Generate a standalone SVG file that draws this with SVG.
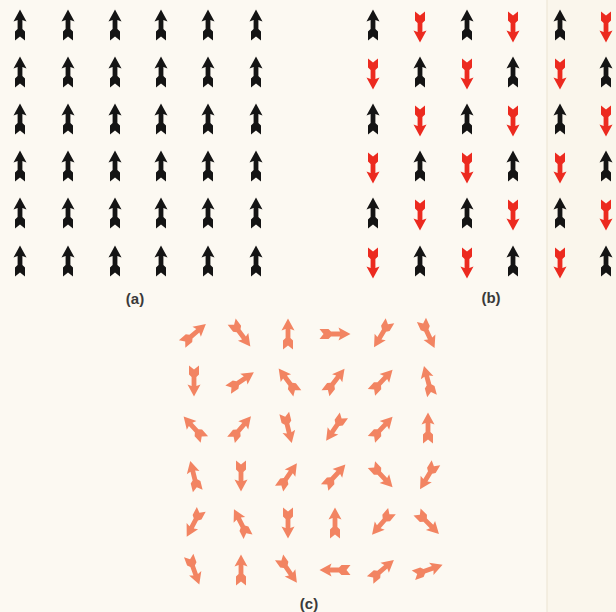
<svg xmlns="http://www.w3.org/2000/svg" xmlns:xlink="http://www.w3.org/1999/xlink" width="616" height="612" viewBox="0 0 616 612">
<style>
.blk{fill:#141414}
.red{fill:#ec2a1f}
.pnk{fill:#f28462}
.lbl{font-family:"Liberation Sans",Arial,sans-serif;font-size:15px;font-weight:bold;fill:#3a3a3a;text-anchor:middle}
</style>
<defs>
<path id="ar" d="M0,-15.5 L6.5,-3.5 L2.4,-5 L2.4,4 L5,6.5 L5,15.5 L0,11.5 L-5,15.5 L-5,6.5 L-2.4,4 L-2.4,-5 L-6.5,-3.5 Z"/>
</defs>
<rect width="616" height="612" fill="#fcf9f2"/>
<rect x="547" y="0" width="69" height="612" fill="#faf6ec"/>
<line x1="547" y1="0" x2="547" y2="612" stroke="#ebe3d2" stroke-width="1"/>

<g id="panel-a" class="blk">
<use xlink:href="#ar" x="20" y="25"/><use xlink:href="#ar" x="68" y="25"/><use xlink:href="#ar" x="115" y="25"/><use xlink:href="#ar" x="161" y="25"/><use xlink:href="#ar" x="208" y="25"/><use xlink:href="#ar" x="256" y="25"/>
<use xlink:href="#ar" x="20" y="72"/><use xlink:href="#ar" x="68" y="72"/><use xlink:href="#ar" x="115" y="72"/><use xlink:href="#ar" x="161" y="72"/><use xlink:href="#ar" x="208" y="72"/><use xlink:href="#ar" x="256" y="72"/>
<use xlink:href="#ar" x="20" y="119"/><use xlink:href="#ar" x="68" y="119"/><use xlink:href="#ar" x="115" y="119"/><use xlink:href="#ar" x="161" y="119"/><use xlink:href="#ar" x="208" y="119"/><use xlink:href="#ar" x="256" y="119"/>
<use xlink:href="#ar" x="20" y="166"/><use xlink:href="#ar" x="68" y="166"/><use xlink:href="#ar" x="115" y="166"/><use xlink:href="#ar" x="161" y="166"/><use xlink:href="#ar" x="208" y="166"/><use xlink:href="#ar" x="256" y="166"/>
<use xlink:href="#ar" x="20" y="213"/><use xlink:href="#ar" x="68" y="213"/><use xlink:href="#ar" x="115" y="213"/><use xlink:href="#ar" x="161" y="213"/><use xlink:href="#ar" x="208" y="213"/><use xlink:href="#ar" x="256" y="213"/>
<use xlink:href="#ar" x="20" y="261"/><use xlink:href="#ar" x="68" y="261"/><use xlink:href="#ar" x="115" y="261"/><use xlink:href="#ar" x="161" y="261"/><use xlink:href="#ar" x="208" y="261"/><use xlink:href="#ar" x="256" y="261"/>
</g>

<g id="panel-b">
<g class="blk">
<use xlink:href="#ar" x="373" y="25"/><use xlink:href="#ar" x="467" y="25"/><use xlink:href="#ar" x="560" y="25"/>
<use xlink:href="#ar" x="420" y="72"/><use xlink:href="#ar" x="513" y="72"/><use xlink:href="#ar" x="606" y="72"/>
<use xlink:href="#ar" x="373" y="119"/><use xlink:href="#ar" x="467" y="119"/><use xlink:href="#ar" x="560" y="119"/>
<use xlink:href="#ar" x="420" y="166"/><use xlink:href="#ar" x="513" y="166"/><use xlink:href="#ar" x="606" y="166"/>
<use xlink:href="#ar" x="373" y="213"/><use xlink:href="#ar" x="467" y="213"/><use xlink:href="#ar" x="560" y="213"/>
<use xlink:href="#ar" x="420" y="261"/><use xlink:href="#ar" x="513" y="261"/><use xlink:href="#ar" x="606" y="261"/>
</g>
<g class="red">
<use xlink:href="#ar" transform="translate(420,27) rotate(180)"/><use xlink:href="#ar" transform="translate(513,27) rotate(180)"/><use xlink:href="#ar" transform="translate(606,27) rotate(180)"/>
<use xlink:href="#ar" transform="translate(373,74) rotate(180)"/><use xlink:href="#ar" transform="translate(467,74) rotate(180)"/><use xlink:href="#ar" transform="translate(560,74) rotate(180)"/>
<use xlink:href="#ar" transform="translate(420,121) rotate(180)"/><use xlink:href="#ar" transform="translate(513,121) rotate(180)"/><use xlink:href="#ar" transform="translate(606,121) rotate(180)"/>
<use xlink:href="#ar" transform="translate(373,168) rotate(180)"/><use xlink:href="#ar" transform="translate(467,168) rotate(180)"/><use xlink:href="#ar" transform="translate(560,168) rotate(180)"/>
<use xlink:href="#ar" transform="translate(420,215) rotate(180)"/><use xlink:href="#ar" transform="translate(513,215) rotate(180)"/><use xlink:href="#ar" transform="translate(606,215) rotate(180)"/>
<use xlink:href="#ar" transform="translate(373,263) rotate(180)"/><use xlink:href="#ar" transform="translate(467,263) rotate(180)"/><use xlink:href="#ar" transform="translate(560,263) rotate(180)"/>
</g>
</g>

<g id="panel-c" class="pnk">
<use xlink:href="#ar" transform="translate(194,334) rotate(50)"/>
<use xlink:href="#ar" transform="translate(241,334) rotate(143)"/>
<use xlink:href="#ar" transform="translate(288,334) rotate(0)"/>
<use xlink:href="#ar" transform="translate(335,334) rotate(90)"/>
<use xlink:href="#ar" transform="translate(382,334) rotate(211)"/>
<use xlink:href="#ar" transform="translate(428,334) rotate(155)"/>

<use xlink:href="#ar" transform="translate(194,381) rotate(180)"/>
<use xlink:href="#ar" transform="translate(241,381) rotate(56)"/>
<use xlink:href="#ar" transform="translate(288,381) rotate(-37)"/>
<use xlink:href="#ar" transform="translate(335,381) rotate(38)"/>
<use xlink:href="#ar" transform="translate(382,381) rotate(43)"/>
<use xlink:href="#ar" transform="translate(428,381) rotate(-15)"/>

<use xlink:href="#ar" transform="translate(194,428) rotate(-42)"/>
<use xlink:href="#ar" transform="translate(241,428) rotate(40)"/>
<use xlink:href="#ar" transform="translate(288,428) rotate(166)"/>
<use xlink:href="#ar" transform="translate(335,428) rotate(215)"/>
<use xlink:href="#ar" transform="translate(382,428) rotate(43)"/>
<use xlink:href="#ar" transform="translate(428,428) rotate(0)"/>

<use xlink:href="#ar" transform="translate(194,476) rotate(-14)"/>
<use xlink:href="#ar" transform="translate(241,476) rotate(180)"/>
<use xlink:href="#ar" transform="translate(288,476) rotate(35)"/>
<use xlink:href="#ar" transform="translate(335,476) rotate(42)"/>
<use xlink:href="#ar" transform="translate(382,476) rotate(137)"/>
<use xlink:href="#ar" transform="translate(428,476) rotate(211)"/>

<use xlink:href="#ar" transform="translate(194,523) rotate(208)"/>
<use xlink:href="#ar" transform="translate(241,523) rotate(-27)"/>
<use xlink:href="#ar" transform="translate(288,523) rotate(180)"/>
<use xlink:href="#ar" transform="translate(335,523) rotate(0)"/>
<use xlink:href="#ar" transform="translate(382,523) rotate(220)"/>
<use xlink:href="#ar" transform="translate(428,523) rotate(135)"/>

<use xlink:href="#ar" transform="translate(194,570) rotate(160)"/>
<use xlink:href="#ar" transform="translate(241,570) rotate(0)"/>
<use xlink:href="#ar" transform="translate(288,570) rotate(145)"/>
<use xlink:href="#ar" transform="translate(335,570) rotate(270)"/>
<use xlink:href="#ar" transform="translate(382,570) rotate(50)"/>
<use xlink:href="#ar" transform="translate(428,570) rotate(70)"/>
</g>

<g id="labels">
<text class="lbl" x="135" y="304">(a)</text>
<text class="lbl" x="491" y="303">(b)</text>
<text class="lbl" x="309" y="609">(c)</text>
</g>
</svg>
